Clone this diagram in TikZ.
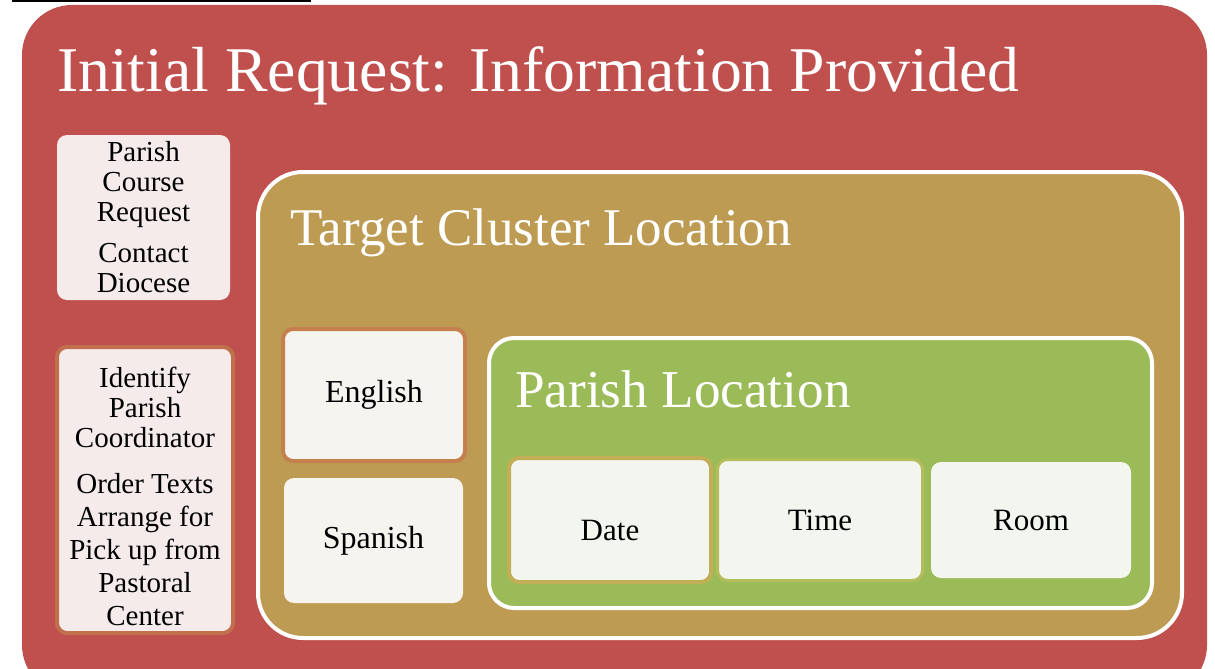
\documentclass[tikz,border=0pt]{standalone}
\usepackage{fontspec}
\setmainfont{Liberation Serif}
\definecolor{redbg}{HTML}{C0504D}
\definecolor{goldbg}{HTML}{BE9B52}
\definecolor{greenbg}{HTML}{9BBB59}
\definecolor{pinkfill}{HTML}{F5EBEB}
\definecolor{creamfill}{HTML}{F6F4EE}
\definecolor{greenfill}{HTML}{F3F6EE}
\definecolor{rustline}{HTML}{C0704D}
\definecolor{orangeline}{HTML}{C4804E}
\definecolor{dateline}{HTML}{C2AE55}
\definecolor{timeline}{HTML}{B5BD5A}
\begin{document}
\begin{tikzpicture}[x=1pt,y=-1pt,
  container/.style={rectangle, draw=white, line width=4pt, inner sep=0pt},
  leafbox/.style={rectangle, rounded corners=10pt, inner sep=0pt, align=center,
    font=\fontsize{29}{30}\selectfont, text=black},
  bigleaf/.style={font=\fontsize{32}{34}\selectfont},
  midleaf/.style={font=\fontsize{31}{33}\selectfont},
  titletext/.style={anchor=base west, inner sep=0pt, text=white}]
\useasboundingbox (0,0) rectangle (1215,669);
\fill[white] (0,0) rectangle (1215,669);
\begin{scope}
\clip (0,0) rectangle (1215,669);
\draw[black, line width=3pt] (12,1) -- (311,1);
\node[rectangle, fill=redbg, rounded corners=50pt, minimum width=1185pt, minimum height=690pt, inner sep=0pt] (outer) at (614.5,350) {};
\end{scope}
\node[titletext, font=\fontsize{63.7}{70}\selectfont] (title) at (57,92) {Initial Request: Information Provided};

\node[leafbox, fill=pinkfill, minimum width=173pt, minimum height=165pt] (req) at (143.5,217.5)
  {Parish\\Course\\Request\\[11pt]Contact\\Diocese};
\node[leafbox, fill=pinkfill, draw=rustline, line width=4pt, minimum width=176pt, minimum height=286pt] (coord) at (145,490) {};
\node[align=center, inner sep=0pt, font=\fontsize{29}{33}\selectfont] (coordtext) at (145,496)
  {Identify\\[-3pt]Parish\\[-3pt]Coordinator\\[13pt]Order Texts\\Arrange for\\Pick up from\\Pastoral\\Center};

\node[container, fill=goldbg, rounded corners=45pt, minimum width=924pt, minimum height=466pt] (cluster) at (720,405) {};
\node[titletext, font=\fontsize{53}{58}\selectfont] (clustertitle) at (290,245) {Target Cluster Location};

\node[leafbox, bigleaf, fill=creamfill, draw=orangeline, line width=4pt, minimum width=182pt, minimum height=132pt] (english) at (374,395) {English};
\node[leafbox, bigleaf, fill=creamfill, minimum width=179pt, minimum height=125pt] (spanish) at (373.5,540.5) {Spanish};

\node[container, fill=greenbg, rounded corners=25pt, minimum width=663pt, minimum height=270pt] (parish) at (820.5,473) {};
\node[titletext, font=\fontsize{53.2}{58}\selectfont] (parishtitle) at (515,407) {Parish Location};

\node[leafbox, fill=greenfill, draw=dateline, line width=4pt, minimum width=202pt, minimum height=124pt,
  label={[midleaf, text=black, inner sep=0pt, yshift=-10pt]center:Date}] (date) at (610,520) {};
\node[leafbox, midleaf, fill=greenfill, draw=timeline, line width=3pt, minimum width=205pt, minimum height=121pt] (time) at (820,520) {Time};
\node[leafbox, midleaf, fill=greenfill, minimum width=200pt, minimum height=116pt] (room) at (1031,520) {Room};
\end{tikzpicture}
\end{document}
